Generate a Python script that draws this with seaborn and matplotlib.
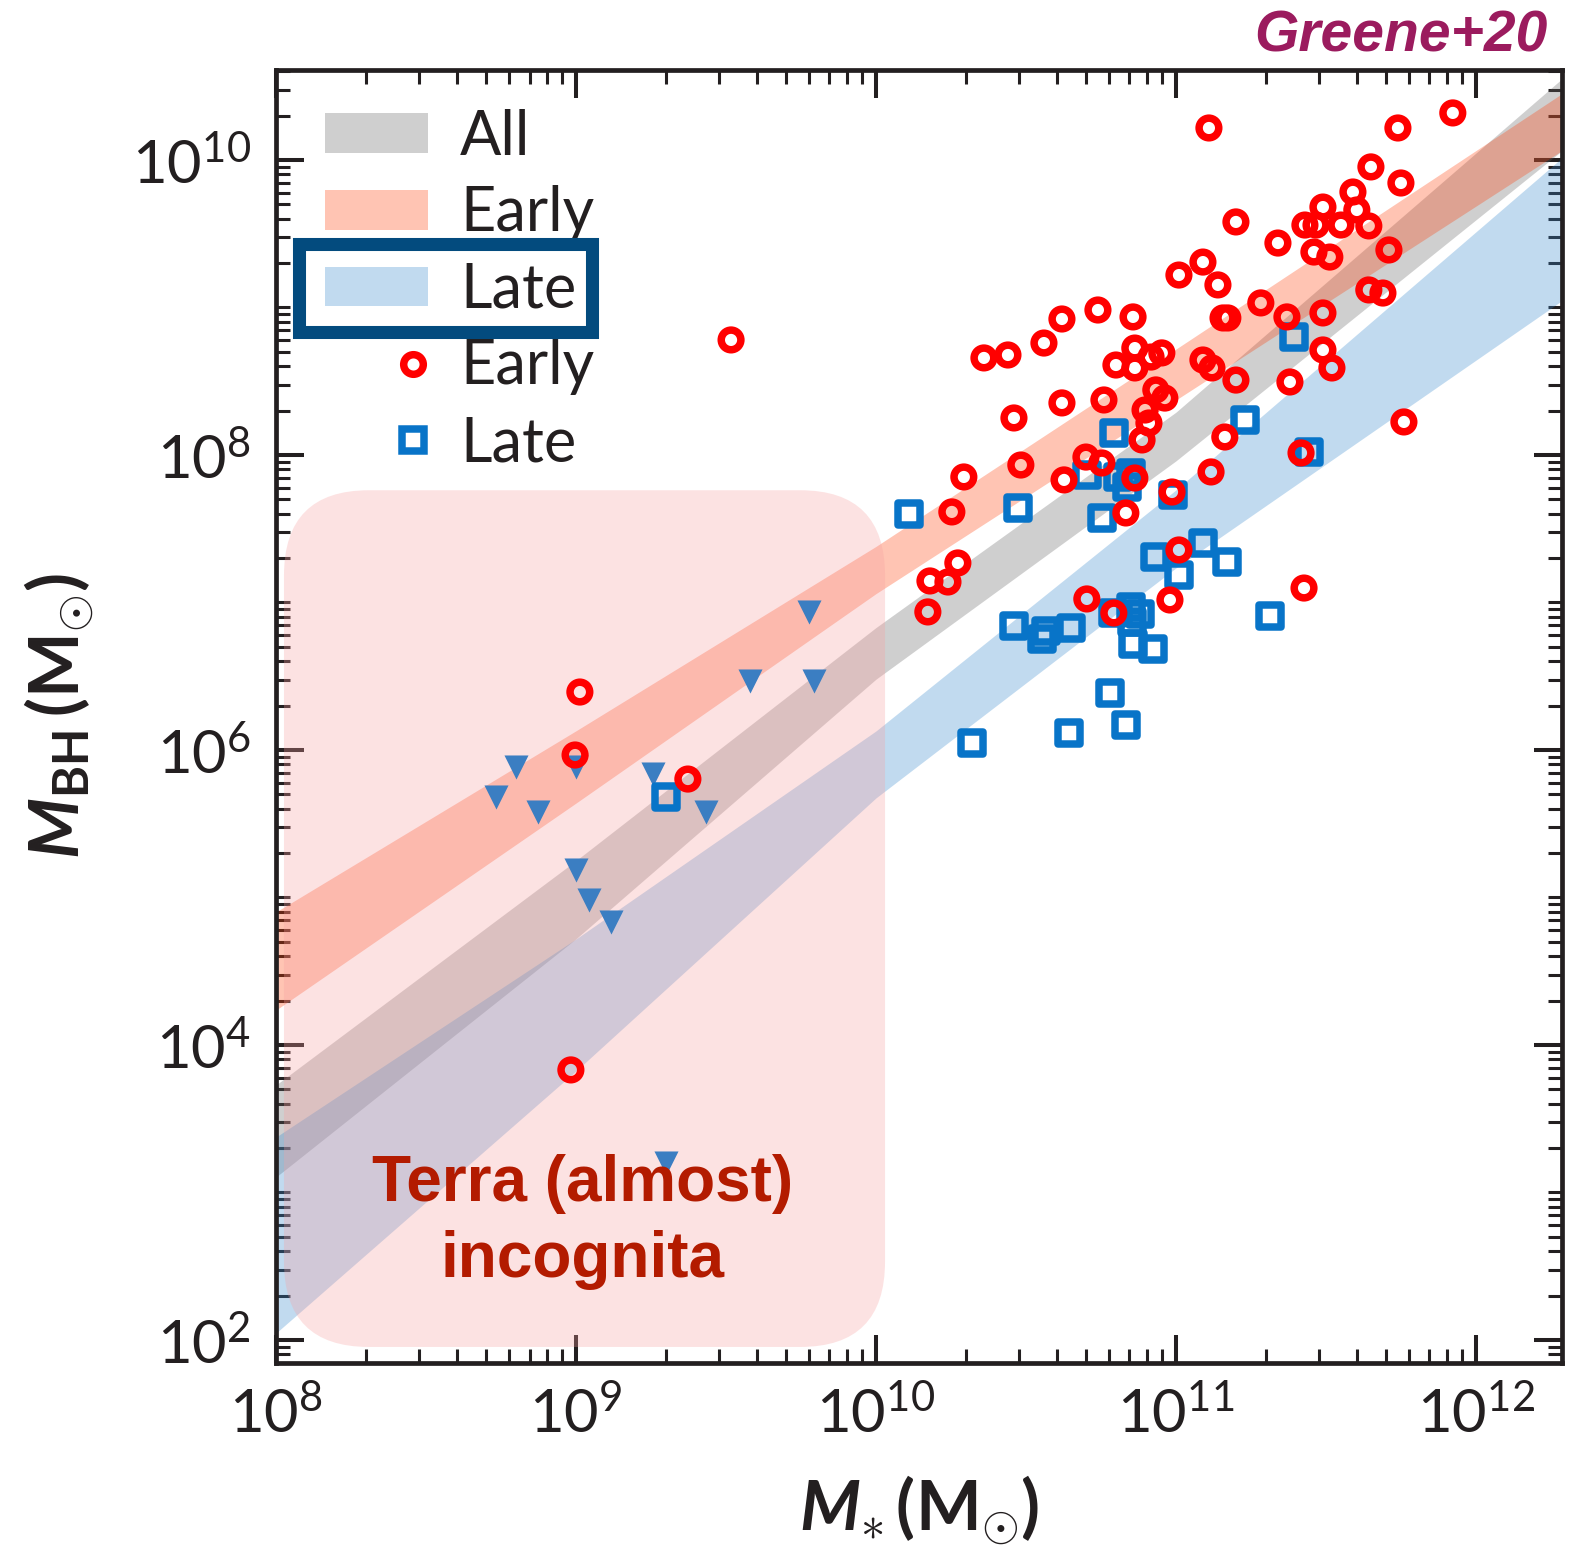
import numpy as np
import matplotlib
matplotlib.use("Agg")
import matplotlib.pyplot as plt
import seaborn as sns
from matplotlib.patches import Patch, FancyBboxPatch, Rectangle
from matplotlib.lines import Line2D
from matplotlib.legend_handler import HandlerLine2D
from matplotlib.ticker import FixedLocator, FuncFormatter, NullFormatter

# ---------------------------------------------------------------------------
# Data (log10 of solar masses)
# ---------------------------------------------------------------------------
# Early-type galaxies with dynamical BH masses
early_logmstar = [9.517, 9.013, 8.997, 9.373, 8.983,
                  11.110, 11.923, 11.740, 11.650, 11.750, 11.590, 11.490, 11.603,
                  11.430, 11.467, 11.550, 11.643, 11.200, 11.340, 11.460, 11.513,
                  11.710, 11.090, 11.010, 11.140, 11.283, 11.643, 11.690, 11.490,
                  11.370, 11.157, 11.173, 10.740, 10.857, 10.620, 10.560, 10.440,
                  10.360, 10.863, 10.953, 10.917, 10.800, 10.863, 11.090, 11.120,
                  11.490, 11.520, 11.200, 11.380, 10.933, 10.963, 10.760, 10.620,
                  10.460, 10.897, 10.910, 10.887, 11.163, 11.760, 11.417, 10.700,
                  10.753, 10.483, 10.293, 10.627, 11.117, 10.863, 10.987, 10.253,
                  10.833, 10.273, 10.180, 10.240, 10.173, 10.703, 11.010, 10.980,
                  11.427, 10.793]
early_logmbh = [8.780, 6.393, 5.966, 5.803, 3.831,
                10.217, 10.319, 10.217, 9.953, 9.844, 9.783, 9.681, 9.661,
                9.559, 9.559, 9.559, 9.553, 9.580, 9.437, 9.376, 9.342,
                9.390, 9.308, 9.220, 9.153, 9.031, 9.119, 9.098, 8.963,
                8.936, 8.929, 8.929, 8.983, 8.936, 8.922, 8.759, 8.678,
                8.658, 8.725, 8.692, 8.664, 8.610, 8.590, 8.644, 8.590,
                8.712, 8.590, 8.508, 8.495, 8.441, 8.386, 8.373, 8.353,
                8.251, 8.305, 8.217, 8.102, 8.122, 8.224, 8.014, 7.986,
                7.946, 7.932, 7.851, 7.831, 7.885, 7.844, 7.749, 7.614,
                7.607, 7.268, 7.146, 7.139, 6.936, 7.024, 7.356, 7.017,
                7.098, 6.929]

# Late-type galaxies with dynamical BH masses
late_logmstar = [10.110, 10.473, 10.793, 11.230, 11.443, 10.703, 10.807, 10.850,
                 10.837, 10.990, 10.753, 10.930, 11.090, 11.170, 11.010, 10.460,
                 10.553, 10.567, 10.650, 10.790, 10.850, 10.880, 10.853, 10.857,
                 10.923, 11.313, 10.780, 10.833, 10.643, 10.320, 11.393, 9.300]
late_logmbh = [7.600, 7.641, 8.149, 8.237, 8.020, 7.864, 7.851, 7.878,
               7.783, 7.729, 7.573, 7.308, 7.403, 7.275, 7.186, 6.841,
               6.753, 6.807, 6.827, 6.929, 6.969, 6.922, 6.868, 6.719,
               6.685, 6.908, 6.386, 6.169, 6.115, 6.047, 8.800, 5.681]

# Upper limits (dwarf galaxies)
limit_logmstar = [9.777, 9.580, 9.793, 8.800, 9.000, 9.257, 8.733, 8.873,
                  9.433, 9.000, 9.043, 9.117, 9.300]
limit_logmbh = [6.936, 6.468, 6.468, 5.885, 5.885, 5.837, 5.681, 5.580,
                5.580, 5.186, 4.983, 4.834, 3.200]

# Scaling-relation bands (lower / upper edge at each stellar mass)
band_logmstar = [8.0, 9.0, 10.0, 11.0, 12.29]
all_lo = [3.105, 4.720, 6.480, 7.960, 10.068]
all_hi = [3.729, 5.250, 6.830, 8.290, 10.556]
early_lo = [4.237, 5.640, 7.060, 8.373, 10.068]
early_hi = [4.902, 6.130, 7.380, 8.718, 10.454]
late_lo = [2.047, 3.824, 5.675, 7.234, 9.051]
late_hi = [3.376, 4.719, 6.129, 7.763, 10.020]

legend_labels = ["All", "Early", "Late", "Early", "Late"]

# ---------------------------------------------------------------------------
# Style
# ---------------------------------------------------------------------------
sns.set_theme(style="ticks")
plt.rcParams["font.family"] = ["Lato", "DejaVu Sans"]
plt.rcParams["mathtext.fontset"] = "custom"
plt.rcParams["mathtext.rm"] = "Lato"
plt.rcParams["mathtext.it"] = "Lato:italic"
plt.rcParams["mathtext.bf"] = "Lato:bold"
plt.rcParams["mathtext.bfit"] = "Lato:bold:italic"

INK = "#231f20"
GRAY = (98 / 255, 98 / 255, 98 / 255)
SALMON = (1.0, 60 / 255, 5 / 255)
BLUE = (52 / 255, 135 / 255, 205 / 255)
BAND_ALPHA = 0.3
RED = "#ff0000"
SQ_BLUE = "#0874c8"
TRI_BLUE = "#3b7ec2"

fig = plt.figure(figsize=(15.72, 15.53), dpi=100)
ax = fig.add_axes([0.17557, 0.12234, 0.81807, 0.83258])
ax.set_xscale("log")
ax.set_yscale("log")
ax.set_xlim(1e8, 10 ** 12.287)
ax.set_ylim(10 ** 1.844, 10 ** 10.61)

bx = 10 ** np.asarray(band_logmstar)
for lo, hi, col, z in [(all_lo, all_hi, GRAY, 1.0),
                       (early_lo, early_hi, SALMON, 1.1),
                       (late_lo, late_hi, BLUE, 1.2)]:
    ax.fill_between(bx, 10 ** np.asarray(lo), 10 ** np.asarray(hi),
                    color=col, alpha=BAND_ALPHA, lw=0, zorder=z)

# Shaded low-mass region
box = FancyBboxPatch((0.0062, 0.0124), 0.4674, 0.6626,
                     boxstyle="round,pad=0,rounding_size=0.066",
                     transform=ax.transAxes, fc=(248 / 255, 160 / 255, 160 / 255),
                     alpha=0.3, ec="none", zorder=2)
ax.add_patch(box)

sns.scatterplot(x=10 ** np.asarray(limit_logmstar), y=10 ** np.asarray(limit_logmbh),
                marker="v", s=300, color=TRI_BLUE, linewidth=0, ax=ax,
                zorder=3, legend=False)
sns.scatterplot(x=10 ** np.asarray(late_logmstar), y=10 ** np.asarray(late_logmbh),
                marker="s", s=250, facecolor="none", edgecolor=SQ_BLUE,
                linewidth=5.4, ax=ax, zorder=4, legend=False)
sns.scatterplot(x=10 ** np.asarray(early_logmstar), y=10 ** np.asarray(early_logmbh),
                marker="o", s=200, facecolor="none", edgecolor=RED,
                linewidth=5.4, ax=ax, zorder=4.5, legend=False)

ax.text(0.238, 0.109, "Terra (almost)\nincognita", transform=ax.transAxes,
        ha="center", va="center", multialignment="center", fontsize=46,
        fontweight="bold", color="#b31b00", family=["Liberation Sans", "DejaVu Sans"],
        linespacing=1.33, zorder=6)

# ---------------------------------------------------------------------------
# Axes, ticks, labels
# ---------------------------------------------------------------------------
xmaj = [1e8, 1e9, 1e10, 1e11, 1e12]
xmin = [j * 10.0 ** k for k in range(8, 13) for j in range(2, 10)]
ymaj = [1e2, 1e4, 1e6, 1e8, 1e10]
ymin = [j * 10.0 ** k for k in range(1, 11) for j in range(1, 10)
        if not (j == 1 and k % 2 == 0)]
ax.xaxis.set_major_locator(FixedLocator(xmaj))
ax.xaxis.set_minor_locator(FixedLocator(xmin))
ax.yaxis.set_major_locator(FixedLocator(ymaj))
ax.yaxis.set_minor_locator(FixedLocator(ymin))
fmt = FuncFormatter(lambda v, p: r"$\mathregular{10^{%d}}$" % round(np.log10(v)))
ax.xaxis.set_major_formatter(fmt)
ax.yaxis.set_major_formatter(fmt)
ax.xaxis.set_minor_formatter(NullFormatter())
ax.yaxis.set_minor_formatter(NullFormatter())

ax.tick_params(which="both", direction="in", top=True, right=True, color=INK,
               labelcolor=INK, labelsize=43)
ax.tick_params(which="major", length=20, width=2.9)
ax.tick_params(which="minor", length=10, width=2.2)
ax.tick_params(axis="x", which="major", pad=16)
ax.tick_params(axis="y", which="major", pad=18)
for sp in ax.spines.values():
    sp.set_color(INK)
    sp.set_linewidth(3.4)

ax.set_xlabel(r"$\mathbfit{M}_{\ast}\,\mathbf{(M_{\odot})}$",
              fontsize=50, color=INK, labelpad=22)
ax.set_ylabel(r"$\mathbfit{M}_{\mathbf{BH}}\,\mathbf{(M_{\odot})}$",
              fontsize=50, color=INK, labelpad=26)


# ---------------------------------------------------------------------------
# Legend
# ---------------------------------------------------------------------------
class RightMarkerHandler(HandlerLine2D):
    """Place the single legend marker towards the right end of the handle box."""

    def get_xdata(self, legend, xdescent, ydescent, width, height, fontsize):
        xm = -xdescent + 0.855 * width
        xdata = np.array([xm - 1.0, xm + 1.0])
        return xdata, np.array([xm])


handles = [
    Patch(facecolor=GRAY, alpha=BAND_ALPHA, edgecolor="none"),
    Patch(facecolor=SALMON, alpha=BAND_ALPHA, edgecolor="none"),
    Patch(facecolor=BLUE, alpha=BAND_ALPHA, edgecolor="none"),
    Line2D([], [], ls="none", marker="o", ms=14.1, mfc="none", mec=RED, mew=5.4),
    Line2D([], [], ls="none", marker="s", ms=15.8, mfc="none", mec=SQ_BLUE, mew=5.4),
]
leg = ax.legend(handles, legend_labels, loc="upper left",
                bbox_to_anchor=(0.0381, 0.9700), frameon=False, fontsize=44,
                handlelength=1.69, handleheight=0.62, handletextpad=0.52,
                labelspacing=0.32, borderpad=0, borderaxespad=0, numpoints=1,
                handler_map={Line2D: RightMarkerHandler(numpoints=1)})
for t in leg.get_texts():
    t.set_color(INK)
leg.set_zorder(7)

ax.add_patch(Rectangle((0.0175, 0.7970), 0.2286, 0.0681, transform=ax.transAxes,
                       fill=False, ec="#034b7e", lw=9.4, joinstyle="miter",
                       zorder=8, clip_on=False))

fig.text(1548 / 1572, 1 - 52 / 1553, "Greene+20", ha="right", va="baseline",
         fontsize=41, fontweight="bold", fontstyle="italic", color="#9b1b5e",
         family=["Liberation Sans", "DejaVu Sans"])

fig.savefig("out.png", dpi=100)
